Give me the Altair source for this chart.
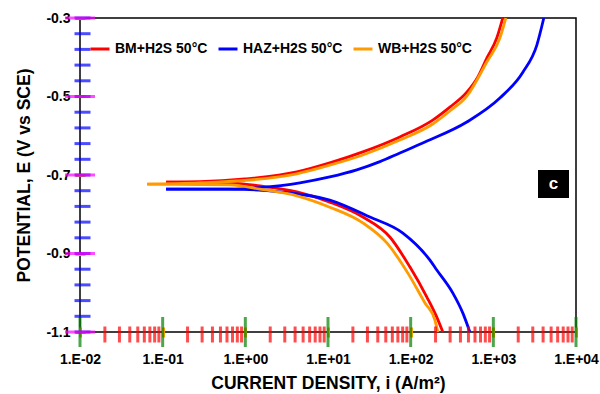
import altair as alt
import pandas as pd

# ---- data (current density in A/m^2, potential in V vs SCE) ----
series_names = ["BM+H2S 50°C", "HAZ+H2S 50°C", "WB+H2S 50°C"]
series_colors = ["#FF0000", "#0000FF", "#FF9A00"]

bm_cath_i = [245, 207, 157, 97.7, 56, 26.4, 10.5, 4.2, 1.5, 0.65, 0.11]
bm_cath_E = [-1.100, -1.062, -1.011, -0.934, -0.858, -0.807, -0.769, -0.743, -0.728, -0.720, -0.718]
bm_anod_i = [0.11, 0.28, 0.99, 4.2, 10.5, 26.4, 74, 185, 298, 478, 650, 834, 1100, 1300]
bm_anod_E = [-0.718, -0.717, -0.710, -0.692, -0.669, -0.641, -0.603, -0.560, -0.527, -0.489, -0.450, -0.402, -0.351, -0.300]

haz_cath_i = [520, 428, 324, 207, 171, 80.5, 32.1, 10.5, 2.62, 0.65, 0.11]
haz_cath_E = [-1.100, -1.052, -1.001, -0.942, -0.917, -0.848, -0.807, -0.764, -0.743, -0.736, -0.736]
haz_anod_i = [0.11, 0.65, 1.5, 4.57, 10.5, 22.3, 42.5, 74, 149, 478, 1200, 2276, 3360, 4080]
haz_anod_E = [-0.736, -0.736, -0.732, -0.720, -0.705, -0.687, -0.666, -0.644, -0.616, -0.565, -0.504, -0.438, -0.369, -0.300]

wb_cath_i = [213, 196, 149, 92.5, 51.5, 26.4, 10.5, 4.21, 1.5, 0.65, 0.065]
wb_cath_E = [-1.100, -1.069, -1.026, -0.950, -0.873, -0.822, -0.782, -0.753, -0.736, -0.725, -0.723]
wb_anod_i = [0.065, 0.28, 0.99, 4.21, 10.5, 26.4, 74, 185, 298, 478, 834, 1200, 1416]
wb_anod_E = [-0.723, -0.720, -0.714, -0.697, -0.675, -0.649, -0.611, -0.570, -0.537, -0.499, -0.412, -0.351, -0.300]

x_ticks = [1e-2, 1e-1, 1e0, 1e1, 1e2, 1e3, 1e4]
x_minor = [m * 10.0 ** k for k in range(-2, 4) for m in range(2, 10)]
y_ticks = [-1.1, -0.9, -0.7, -0.5, -0.3]
y_minor = [round(-1.1 + 0.04 * k, 2) for k in range(21)]

rows = []
for name, ci, cE, ai, aE in [
    (series_names[0], bm_cath_i, bm_cath_E, bm_anod_i, bm_anod_E),
    (series_names[1], haz_cath_i, haz_cath_E, haz_anod_i, haz_anod_E),
    (series_names[2], wb_cath_i, wb_cath_E, wb_anod_i, wb_anod_E),
]:
    for i, e in zip(ci, cE):
        rows.append({"series": name, "branch": name + " cathodic", "i": i, "E": e})
    for i, e in zip(ai, aE):
        rows.append({"series": name, "branch": name + " anodic", "i": i, "E": e})
df = pd.DataFrame(rows)

FONT = "Liberation Sans"

x_scale = alt.Scale(type="log", domain=[1e-2, 1e4], nice=False)
y_scale = alt.Scale(domain=[-1.1, -0.3], nice=False, zero=False)

label_expr_x = ("'1.E' + (round(log(datum.value)/LN10) < 0 ? '-' : '+') + "
                "(abs(round(log(datum.value)/LN10)) < 10 ? '0' : '') + abs(round(log(datum.value)/LN10))")

lines = alt.Chart(df).mark_line(strokeWidth=2.8, interpolate="monotone").encode(
    x=alt.X("i:Q", scale=x_scale,
            axis=alt.Axis(values=x_ticks, labelExpr=label_expr_x, tickSize=10, offset=-5,
                          tickColor="orange", tickWidth=3,
                          labelPadding=15, labelFlush=False, labelOverlap=False,
                          title="CURRENT DENSITY, i (A/m²)", titlePadding=8, orient="bottom")),
    y=alt.Y("E:Q", scale=y_scale,
            axis=alt.Axis(values=y_ticks,
                          labelExpr="(datum.value < 0 ? '-' : '') + format(abs(datum.value), '.1f')",
                          tickColor="orange", tickWidth=3,
                          tickSize=10, offset=-5, labelPadding=5, labelOverlap=False,
                          title="POTENTIAL, E (V vs SCE)", titlePadding=12, orient="left")),
    color=alt.Color("series:N",
                    scale=alt.Scale(domain=series_names, range=series_colors),
                    legend=alt.Legend(orient="none", legendX=9, legendY=20, direction="horizontal",
                                      title=None, symbolType="stroke", symbolStrokeWidth=3,
                                      symbolSize=361, labelFont=FONT, labelFontSize=14,
                                      labelFontWeight="bold", labelColor="black",
                                      columnPadding=4, labelOffset=4, padding=0)),
    detail="branch:N",
)

xminor_df = pd.DataFrame({"v": x_minor})
x_minor_ticks = alt.Chart(xminor_df).mark_tick(color="red", thickness=3, size=16,
                                               orient="vertical").encode(
    x=alt.X("v:Q", scale=x_scale), y=alt.value(316.5)
)
xmajor_df = pd.DataFrame({"v": x_ticks})
x_major_ticks = alt.Chart(xmajor_df).mark_tick(color="green", thickness=3, size=30,
                                               orient="vertical").encode(
    x=alt.X("v:Q", scale=x_scale), y=alt.value(314)
)
yminor_df = pd.DataFrame({"v": y_minor})
y_minor_ticks = alt.Chart(yminor_df).mark_tick(color="blue", thickness=3, size=16,
                                               orient="horizontal").encode(
    y=alt.Y("v:Q", scale=y_scale), x=alt.value(2.5)
)
ymajor_df = pd.DataFrame({"v": y_ticks})
y_major_ticks = alt.Chart(ymajor_df).mark_tick(color="magenta", thickness=3, size=30,
                                               orient="horizontal").encode(
    y=alt.Y("v:Q", scale=y_scale), x=alt.value(0)
)

box_df = pd.DataFrame({"t": ["c"]})
box = alt.Chart(box_df).mark_rect(color="black").encode(
    x=alt.value(458), x2=alt.value(489), y=alt.value(152), y2=alt.value(180)
)
box_text = alt.Chart(box_df).mark_text(color="white", font=FONT, fontWeight="bold", fontSize=17,
                                       align="center", baseline="middle").encode(
    text="t:N", x=alt.value(473.5), y=alt.value(166)
)

chart = alt.layer(lines, x_minor_ticks, x_major_ticks, y_minor_ticks, y_major_ticks,
                  box, box_text).properties(
    width=496, height=314,
    autosize=alt.AutoSizeParams(type="none"),
    padding={"left": 80, "top": 18, "right": 24, "bottom": 62},
    background="white",
).configure_view(
    stroke="black", strokeWidth=1.5
).configure_axis(
    labelFont=FONT, labelFontWeight="bold", labelFontSize=14, labelColor="black",
    titleFont=FONT, titleFontWeight="bold", titleFontSize=17.5, titleColor="black",
    domain=False, grid=False,
)

chart.save("out.html", embed_options={"renderer": "svg", "actions": False})
